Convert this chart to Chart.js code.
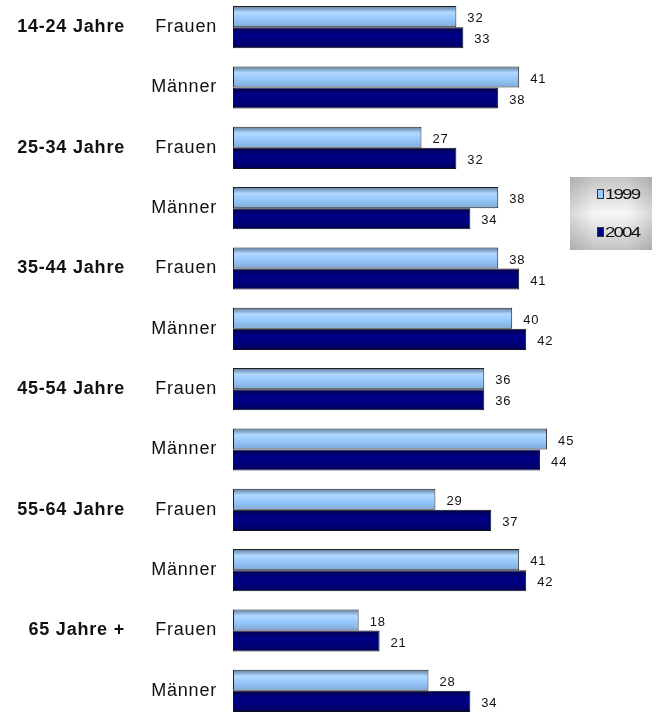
<!DOCTYPE html>
<html>
<head>
<meta charset="utf-8">
<script src="https://cdn.jsdelivr.net/npm/chart.js@4.4.1/dist/chart.umd.min.js"></script>
<style>
html, body { margin: 0; padding: 0; overflow: hidden; background: #fff; }
#wrap { position: absolute; left: 0; top: -3px; width: 657px; height: 724px; }
</style>
</head>
<body>
<div id="wrap"><canvas id="jahreChart"></canvas></div>
<script>
// data
const ageGroups = ['14-24 Jahre', '25-34 Jahre', '35-44 Jahre', '45-54 Jahre', '55-64 Jahre', '65 Jahre +'];
const sexes = ['Frauen', 'Männer'];
const values1999 = [32, 41, 27, 38, 38, 40, 36, 45, 29, 41, 18, 28];
const values2004 = [33, 38, 32, 34, 41, 42, 36, 44, 37, 42, 21, 34];
const seriesLabels = ['1999', '2004'];

const rowLabels = [];
const groupLabels = [];
ageGroups.forEach(function(g) {
    sexes.forEach(function(s, i) {
        rowLabels.push(s);
        groupLabels.push(i === 0 ? g : '');
    });
});

const FONT = "'Liberation Sans', Arial, sans-serif";

// vertical shading per bar, like the old office charts
const barShade = {
    '1999': [[0, '#587898'], [0.3, '#b2d8ff'], [0.55, '#99ccff'], [1, '#7fa9d6']],
    '2004': [[0, '#00004a'], [0.35, '#000088'], [0.7, '#00007a'], [1, '#000058']]
};

const shadePlugin = {
    id: 'shade',
    beforeDatasetsDraw(chart) {
        const ctx = chart.ctx;
        chart.data.datasets.forEach(function(ds, di) {
            const stops = barShade[ds.label];
            chart.getDatasetMeta(di).data.forEach(function(el) {
                const top = el.y - el.height / 2;
                const g = ctx.createLinearGradient(0, top, 0, top + el.height);
                stops.forEach(function(s) { g.addColorStop(s[0], s[1]); });
                el.options = Object.assign({}, el.options, { backgroundColor: g });
            });
        });
    }
};

const valuePlugin = {
    id: 'values',
    beforeDraw(chart) {
        chart.ctx.letterSpacing = '0.8px';
    },
    afterDatasetsDraw(chart) {
        const ctx = chart.ctx;
        ctx.save();
        ctx.font = '13px ' + FONT;
        ctx.letterSpacing = '0.8px';
        ctx.fillStyle = '#111';
        ctx.textAlign = 'left';
        ctx.textBaseline = 'middle';
        chart.data.datasets.forEach(function(ds, di) {
            chart.getDatasetMeta(di).data.forEach(function(el, i) {
                ctx.fillText(String(ds.data[i]), el.x + 11, el.y + 2);
            });
        });
        ctx.restore();
    }
};

const legendPlugin = {
    id: 'boxLegend',
    afterDraw(chart) {
        const ctx = chart.ctx;
        const x = 570, y = 180, w = 82, h = 73;
        ctx.save();
        const gv = ctx.createLinearGradient(0, y, 0, y + h);
        gv.addColorStop(0, '#c4c4c4');
        gv.addColorStop(0.5, '#f6f6f6');
        gv.addColorStop(1, '#c4c4c4');
        ctx.fillStyle = gv;
        ctx.fillRect(x, y, w, h);
        const gh = ctx.createLinearGradient(x, 0, x + w, 0);
        gh.addColorStop(0, 'rgba(0,0,0,0.12)');
        gh.addColorStop(0.3, 'rgba(0,0,0,0)');
        gh.addColorStop(0.7, 'rgba(0,0,0,0)');
        gh.addColorStop(1, 'rgba(0,0,0,0.12)');
        ctx.fillStyle = gh;
        ctx.fillRect(x, y, w, h);

        chart.data.datasets.forEach(function(ds, i) {
            const cy = y + 17 + i * 38;
            ctx.fillStyle = ds.backgroundColor;
            ctx.fillRect(x + 27, cy - 5, 7, 10);
            ctx.strokeStyle = '#333';
            ctx.lineWidth = 1;
            ctx.strokeRect(x + 27.5, cy - 4.5, 6, 9);
            ctx.save();
            ctx.translate(x + 35, cy);
            ctx.scale(1.25, 1);
            ctx.font = '15px ' + FONT;
            ctx.letterSpacing = '-1.5px';
            ctx.fillStyle = '#111';
            ctx.textBaseline = 'middle';
            ctx.fillText(ds.label, 0, 1);
            ctx.restore();
        });
        ctx.restore();
    }
};

document.addEventListener('DOMContentLoaded', function() {
    const ctx = document.getElementById('jahreChart');

    new Chart(ctx, {
        type: 'bar',
        data: {
            labels: rowLabels,
            datasets: [{
                label: seriesLabels[0],
                data: values1999,
                backgroundColor: '#99ccff',
                borderColor: '#222',
                borderWidth: 1,
                borderSkipped: false,
                categoryPercentage: 0.7,
                barPercentage: 1
            }, {
                label: seriesLabels[1],
                data: values2004,
                backgroundColor: '#000080',
                borderColor: '#111',
                borderWidth: 1,
                borderSkipped: false,
                categoryPercentage: 0.7,
                barPercentage: 1
            }]
        },
        plugins: [shadePlugin, valuePlugin, legendPlugin],
        options: {
            indexAxis: 'y',
            responsive: true,
            maintainAspectRatio: false,
            animation: false,
            layout: { padding: { left: 0, right: 75, top: 0, bottom: 0 } },
            plugins: {
                legend: { display: false },
                tooltip: { enabled: false }
            },
            scales: {
                x: {
                    display: false,
                    min: 0,
                    max: 50
                },
                y: {
                    position: 'left',
                    weight: 0,
                    grid: { display: false, drawTicks: false },
                    border: { display: false },
                    ticks: {
                        padding: 16,
                        color: '#111',
                        font: { family: FONT, size: 18 }
                    },
                    afterFit: function(scale) {
                        scale.width = 103;
                        scale.paddingTop = 0;
                        scale.paddingBottom = 0;
                    }
                },
                y2: {
                    type: 'category',
                    labels: groupLabels,
                    position: 'left',
                    weight: 1,
                    offset: true,
                    grid: { display: false, drawTicks: false },
                    border: { display: false },
                    ticks: {
                        padding: 5,
                        color: '#111',
                        font: { family: FONT, size: 18, weight: 'bold' }
                    },
                    afterFit: function(scale) {
                        scale.width = 130;
                        scale.paddingTop = 0;
                        scale.paddingBottom = 0;
                    }
                }
            }
        }
    });
});
</script>
</body>
</html>
